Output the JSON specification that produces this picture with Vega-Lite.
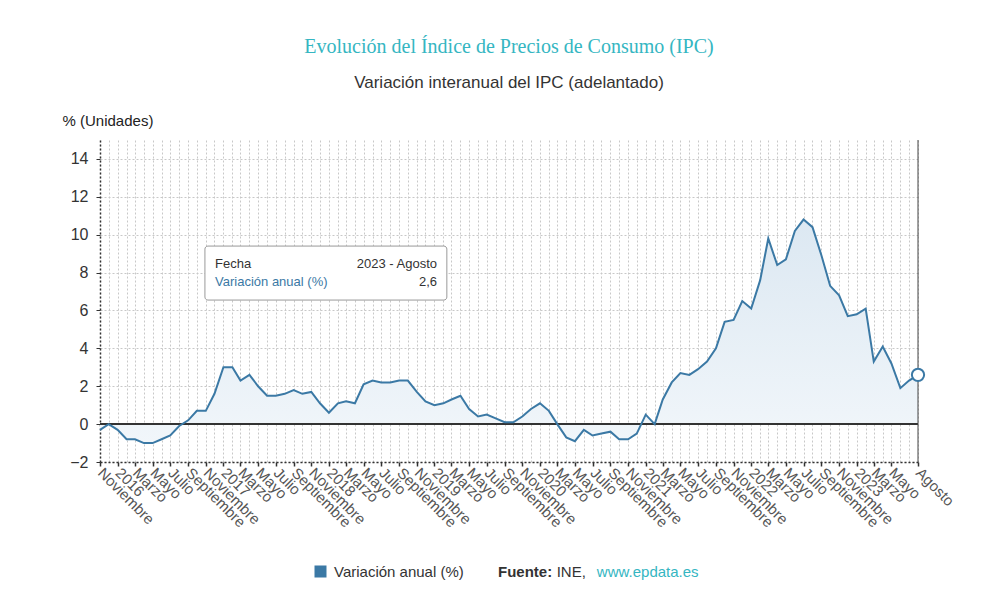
{
  "$schema": "https://vega.github.io/schema/vega-lite/v6.json",
  "width": 818,
  "height": 322,
  "autosize": {"type": "none"},
  "padding": {"left": 100, "top": 140, "right": 63, "bottom": 139},
  "background": "white",
  "title": {
    "text": "Evolución del Índice de Precios de Consumo (IPC)",
    "subtitle": "Variación interanual del IPC (adelantado)",
    "font": "Liberation Serif",
    "fontSize": 20,
    "fontWeight": "normal",
    "color": "#35b6c2",
    "subtitleFont": "Liberation Sans",
    "subtitleFontSize": 17,
    "subtitleColor": "#333333",
    "subtitlePadding": 18,
    "anchor": "middle",
    "frame": "group",
    "offset": 22
  },
  "config": {
    "view": {"stroke": null},
    "font": "Liberation Sans"
  },
  "datasets": {
    "ipc": [
      {"fecha": "2015-11-01", "valor": -0.3},
      {"fecha": "2015-12-01", "valor": 0.0},
      {"fecha": "2016-01-01", "valor": -0.3},
      {"fecha": "2016-02-01", "valor": -0.8},
      {"fecha": "2016-03-01", "valor": -0.8},
      {"fecha": "2016-04-01", "valor": -1.0},
      {"fecha": "2016-05-01", "valor": -1.0},
      {"fecha": "2016-06-01", "valor": -0.8},
      {"fecha": "2016-07-01", "valor": -0.6},
      {"fecha": "2016-08-01", "valor": -0.1},
      {"fecha": "2016-09-01", "valor": 0.2},
      {"fecha": "2016-10-01", "valor": 0.7},
      {"fecha": "2016-11-01", "valor": 0.7},
      {"fecha": "2016-12-01", "valor": 1.6},
      {"fecha": "2017-01-01", "valor": 3.0},
      {"fecha": "2017-02-01", "valor": 3.0},
      {"fecha": "2017-03-01", "valor": 2.3},
      {"fecha": "2017-04-01", "valor": 2.6},
      {"fecha": "2017-05-01", "valor": 2.0},
      {"fecha": "2017-06-01", "valor": 1.5},
      {"fecha": "2017-07-01", "valor": 1.5},
      {"fecha": "2017-08-01", "valor": 1.6},
      {"fecha": "2017-09-01", "valor": 1.8},
      {"fecha": "2017-10-01", "valor": 1.6},
      {"fecha": "2017-11-01", "valor": 1.7},
      {"fecha": "2017-12-01", "valor": 1.1},
      {"fecha": "2018-01-01", "valor": 0.6},
      {"fecha": "2018-02-01", "valor": 1.1},
      {"fecha": "2018-03-01", "valor": 1.2},
      {"fecha": "2018-04-01", "valor": 1.1},
      {"fecha": "2018-05-01", "valor": 2.1},
      {"fecha": "2018-06-01", "valor": 2.3},
      {"fecha": "2018-07-01", "valor": 2.2},
      {"fecha": "2018-08-01", "valor": 2.2},
      {"fecha": "2018-09-01", "valor": 2.3},
      {"fecha": "2018-10-01", "valor": 2.3},
      {"fecha": "2018-11-01", "valor": 1.7},
      {"fecha": "2018-12-01", "valor": 1.2},
      {"fecha": "2019-01-01", "valor": 1.0},
      {"fecha": "2019-02-01", "valor": 1.1},
      {"fecha": "2019-03-01", "valor": 1.3},
      {"fecha": "2019-04-01", "valor": 1.5},
      {"fecha": "2019-05-01", "valor": 0.8},
      {"fecha": "2019-06-01", "valor": 0.4},
      {"fecha": "2019-07-01", "valor": 0.5},
      {"fecha": "2019-08-01", "valor": 0.3},
      {"fecha": "2019-09-01", "valor": 0.1},
      {"fecha": "2019-10-01", "valor": 0.1},
      {"fecha": "2019-11-01", "valor": 0.4},
      {"fecha": "2019-12-01", "valor": 0.8},
      {"fecha": "2020-01-01", "valor": 1.1},
      {"fecha": "2020-02-01", "valor": 0.7},
      {"fecha": "2020-03-01", "valor": 0.0},
      {"fecha": "2020-04-01", "valor": -0.7},
      {"fecha": "2020-05-01", "valor": -0.9},
      {"fecha": "2020-06-01", "valor": -0.3},
      {"fecha": "2020-07-01", "valor": -0.6},
      {"fecha": "2020-08-01", "valor": -0.5},
      {"fecha": "2020-09-01", "valor": -0.4},
      {"fecha": "2020-10-01", "valor": -0.8},
      {"fecha": "2020-11-01", "valor": -0.8},
      {"fecha": "2020-12-01", "valor": -0.5},
      {"fecha": "2021-01-01", "valor": 0.5},
      {"fecha": "2021-02-01", "valor": 0.0},
      {"fecha": "2021-03-01", "valor": 1.3},
      {"fecha": "2021-04-01", "valor": 2.2},
      {"fecha": "2021-05-01", "valor": 2.7},
      {"fecha": "2021-06-01", "valor": 2.6},
      {"fecha": "2021-07-01", "valor": 2.9},
      {"fecha": "2021-08-01", "valor": 3.3},
      {"fecha": "2021-09-01", "valor": 4.0},
      {"fecha": "2021-10-01", "valor": 5.4},
      {"fecha": "2021-11-01", "valor": 5.5},
      {"fecha": "2021-12-01", "valor": 6.5},
      {"fecha": "2022-01-01", "valor": 6.1},
      {"fecha": "2022-02-01", "valor": 7.6},
      {"fecha": "2022-03-01", "valor": 9.8},
      {"fecha": "2022-04-01", "valor": 8.4},
      {"fecha": "2022-05-01", "valor": 8.7},
      {"fecha": "2022-06-01", "valor": 10.2},
      {"fecha": "2022-07-01", "valor": 10.8},
      {"fecha": "2022-08-01", "valor": 10.4},
      {"fecha": "2022-09-01", "valor": 8.9},
      {"fecha": "2022-10-01", "valor": 7.3},
      {"fecha": "2022-11-01", "valor": 6.8},
      {"fecha": "2022-12-01", "valor": 5.7},
      {"fecha": "2023-01-01", "valor": 5.8},
      {"fecha": "2023-02-01", "valor": 6.1},
      {"fecha": "2023-03-01", "valor": 3.3},
      {"fecha": "2023-04-01", "valor": 4.1},
      {"fecha": "2023-05-01", "valor": 3.2},
      {"fecha": "2023-06-01", "valor": 1.9},
      {"fecha": "2023-07-01", "valor": 2.3},
      {"fecha": "2023-08-01", "valor": 2.6}
    ],
    "uno": [{}]
  },
  "layer": [
    {
      "data": {"name": "ipc"},
      "mark": {
        "type": "area",
        "fill": {
          "gradient": "linear",
          "x1": 0, "y1": 0, "x2": 0, "y2": 1,
          "stops": [
            {"offset": 0, "color": "#dce8f2"},
            {"offset": 1, "color": "#f1f6fa"}
          ]
        }
      },
      "encoding": {
        "x": {
          "field": "fecha",
          "type": "temporal",
          "scale": {
            "type": "utc",
            "nice": false,
            "domain": [
              {"year": 2015, "month": 11, "date": 1, "utc": true},
              {"year": 2023, "month": 8, "date": 1, "utc": true}
            ]
          },
          "axis": {
            "title": null,
            "tickCount": {"interval": "month", "step": 1},
            "grid": true,
            "gridColor": "#c8c8c8",
            "gridDash": [2, 2],
            "gridWidth": 1,
            "domainColor": "#333333",
            "domainDash": [2, 2],
            "domainWidth": 1.5,
            "tickSize": 4,
            "tickWidth": 1.5,
            "tickColor": {
              "condition": {
                "test": "(utcmonth(datum.value) % 2 == 0 && !(utcyear(datum.value) == 2023 && utcmonth(datum.value) == 6)) || (utcyear(datum.value) == 2023 && utcmonth(datum.value) == 7)",
                "value": "#333333"
              },
              "value": "transparent"
            },
            "labelAngle": 45,
            "labelAlign": "left",
            "labelBaseline": "middle",
            "labelFontSize": 15,
            "labelColor": "#555555",
            "labelPadding": 4,
            "labelOverlap": false,
            "labelFlush": false,
            "labelBound": false,
            "labelExpr": "(utcyear(datum.value) == 2023 && utcmonth(datum.value) == 7) ? 'Agosto' : ((utcmonth(datum.value) % 2 == 0 && !(utcyear(datum.value) == 2023 && utcmonth(datum.value) == 6)) ? (utcmonth(datum.value) == 0 ? '' + utcyear(datum.value) : ['Enero','Febrero','Marzo','Abril','Mayo','Junio','Julio','Agosto','Septiembre','Octubre','Noviembre','Diciembre'][utcmonth(datum.value)]) : '')"
          }
        },
        "y": {
          "field": "valor",
          "type": "quantitative",
          "scale": {"domain": [-2, 15], "nice": false, "zero": false},
          "axis": {
            "values": [-2, 0, 2, 4, 6, 8, 10, 12, 14],
            "title": "% (Unidades)",
            "titleAngle": 0,
            "titleAlign": "left",
            "titleBaseline": "middle",
            "titleX": -38,
            "titleY": -20,
            "titleFontSize": 15,
            "titleFontWeight": "normal",
            "titleColor": "#222222",
            "grid": true,
            "gridColor": "#c8c8c8",
            "gridDash": [2, 2],
            "domainColor": "#333333",
            "domainDash": [2, 2],
            "domainWidth": 1.5,
            "tickColor": "#333333",
            "tickSize": 4,
            "labelFontSize": 16,
            "labelColor": "#333333",
            "labelPadding": 8
          }
        }
      }
    },
    {
      "data": {"name": "uno"},
      "mark": {"type": "rule", "color": "#333333", "strokeWidth": 2},
      "encoding": {"y": {"datum": 0}}
    },
    {
      "data": {"name": "uno"},
      "mark": {"type": "rule", "color": "#444444", "strokeWidth": 1},
      "encoding": {"x": {"datum": {"year": 2023, "month": 8, "date": 1, "utc": true}}}
    },
    {
      "data": {"name": "ipc"},
      "mark": {"type": "line", "strokeWidth": 2},
      "encoding": {
        "x": {"field": "fecha", "type": "temporal"},
        "y": {"field": "valor", "type": "quantitative"},
        "color": {
          "datum": "Variación anual (%)",
          "scale": {"range": ["#3b79a5"]},
          "legend": {
            "title": null,
            "orient": "none",
            "legendX": 213,
            "legendY": 424,
            "padding": 0,
            "symbolType": "square",
            "symbolSize": 110,
            "symbolFillColor": "#3b79a5",
            "symbolStrokeColor": "#3b79a5",
            "labelFontSize": 15,
            "labelColor": "#333333",
            "labelOffset": 6
          }
        }
      }
    },
    {
      "data": {"name": "ipc"},
      "transform": [{"filter": "utcyear(datum.fecha) == 2023 && utcmonth(datum.fecha) == 7"}],
      "mark": {"type": "point", "filled": true, "fill": "white", "stroke": "#3b79a5", "strokeWidth": 2, "size": 150, "opacity": 1},
      "encoding": {
        "x": {"field": "fecha", "type": "temporal"},
        "y": {"field": "valor", "type": "quantitative"}
      }
    },
    {
      "data": {"name": "uno"},
      "mark": {"type": "rect", "fill": "white", "stroke": "#999999", "strokeWidth": 1, "cornerRadius": 3},
      "encoding": {
        "x": {"datum": {"year": 2016, "month": 10, "date": 29, "utc": true}},
        "x2": {"datum": {"year": 2019, "month": 2, "date": 13, "utc": true}},
        "y": {"datum": 9.4},
        "y2": {"datum": 6.55}
      }
    },
    {
      "data": {"name": "uno"},
      "mark": {"type": "text", "text": "Fecha", "align": "left", "baseline": "middle", "fontSize": 13, "color": "#333333"},
      "encoding": {
        "x": {"datum": {"year": 2016, "month": 12, "date": 3, "utc": true}},
        "y": {"datum": 8.45}
      }
    },
    {
      "data": {"name": "uno"},
      "mark": {"type": "text", "text": "Variación anual (%)", "align": "left", "baseline": "middle", "fontSize": 13, "color": "#3b79a5"},
      "encoding": {
        "x": {"datum": {"year": 2016, "month": 12, "date": 3, "utc": true}},
        "y": {"datum": 7.5}
      }
    },
    {
      "data": {"name": "uno"},
      "mark": {"type": "text", "text": "2023 - Agosto", "align": "right", "baseline": "middle", "fontSize": 13, "color": "#333333"},
      "encoding": {
        "x": {"datum": {"year": 2019, "month": 1, "date": 10, "utc": true}},
        "y": {"datum": 8.45}
      }
    },
    {
      "data": {"name": "uno"},
      "mark": {"type": "text", "text": "2,6", "align": "right", "baseline": "middle", "fontSize": 13, "color": "#333333"},
      "encoding": {
        "x": {"datum": {"year": 2019, "month": 1, "date": 10, "utc": true}},
        "y": {"datum": 7.5}
      }
    },
    {
      "data": {"name": "uno"},
      "mark": {"type": "text", "text": "Fuente:", "align": "left", "baseline": "middle", "fontSize": 15, "fontWeight": "bold", "color": "#333333"},
      "encoding": {
        "x": {"datum": {"year": 2019, "month": 8, "date": 9, "utc": true}},
        "y": {"datum": -7.81}
      }
    },
    {
      "data": {"name": "uno"},
      "mark": {"type": "text", "text": "INE,", "align": "left", "baseline": "middle", "fontSize": 15, "color": "#333333"},
      "encoding": {
        "x": {"datum": {"year": 2020, "month": 2, "date": 28, "utc": true}},
        "y": {"datum": -7.81}
      }
    },
    {
      "data": {"name": "uno"},
      "mark": {"type": "text", "text": "www.epdata.es", "align": "left", "baseline": "middle", "fontSize": 15, "color": "#35b6c2"},
      "encoding": {
        "x": {"datum": {"year": 2020, "month": 7, "date": 16, "utc": true}},
        "y": {"datum": -7.81}
      }
    }
  ]
}
